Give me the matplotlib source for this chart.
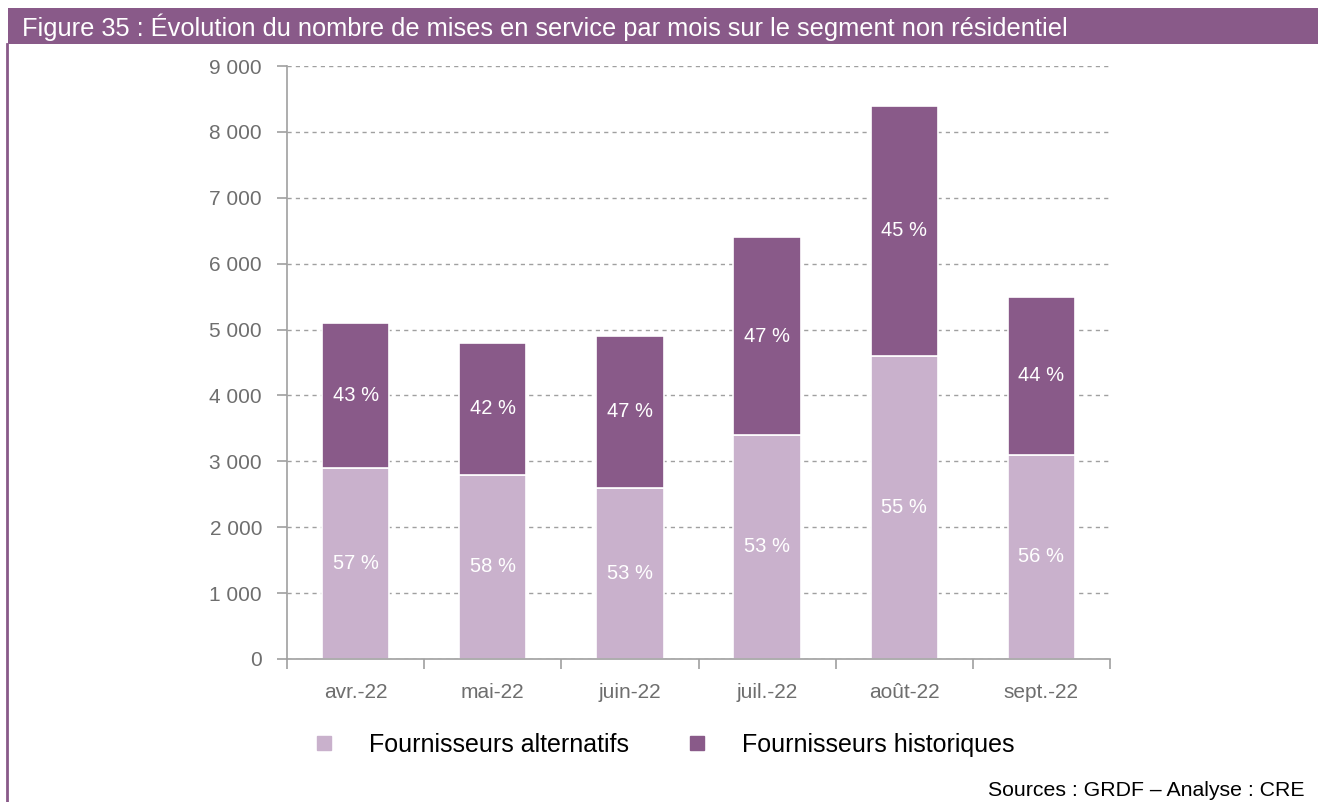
import matplotlib
matplotlib.use("Agg")
import matplotlib.pyplot as plt
from matplotlib.lines import Line2D
from matplotlib.patches import Rectangle
from matplotlib.ticker import FuncFormatter, FixedLocator

# Monthly commissioning counts, non-residential segment
months = ["avr.-22", "mai-22", "juin-22", "juil.-22", "août-22", "sept.-22"]
alternatifs = [2900, 2800, 2600, 3400, 4600, 3100]
historiques = [2200, 2000, 2300, 3000, 3800, 2400]
series_names = ["Fournisseurs alternatifs", "Fournisseurs historiques"]
y_ticks = [0, 1000, 2000, 3000, 4000, 5000, 6000, 7000, 8000, 9000]

title = "Figure 35 : Évolution du nombre de mises en service par mois sur le segment non résidentiel"
source = "Sources : GRDF – Analyse : CRE"

LIGHT = "#C9B1CC"
DARK = "#895A89"
GREY = "#6E6E6E"
AXIS = "#A0A0A0"
FONT = ["Liberation Sans", "DejaVu Sans"]

plt.rcParams["font.family"] = FONT

fig = plt.figure(figsize=(13.18, 8.02), dpi=100)
W, H = 1318, 802

# Title banner and frame line
fig.patches.append(Rectangle((8 / W, 1 - 44 / H), 1 - 8 / W, 36 / H,
                             transform=fig.transFigure, facecolor=DARK,
                             edgecolor="none", zorder=0))
fig.add_artist(Line2D([7 / W, 7 / W], [0, 1 - 44 / H], transform=fig.transFigure,
                      color=DARK, linewidth=2))
fig.text(22 / W, 1 - 27 / H, title, color="white", fontsize=18.3,
         family=["Liberation Sans Narrow", "Liberation Sans", "DejaVu Sans"],
         ha="left", va="center")

ax = fig.add_axes([287 / W, 1 - 659 / H, 823 / W, 593 / H])

x = list(range(len(months)))
totals = [a + h for a, h in zip(alternatifs, historiques)]
width = 0.49
ax.bar(x, alternatifs, width, color=LIGHT, edgecolor="white", linewidth=1.2, zorder=3)
ax.bar(x, historiques, width, bottom=alternatifs, color=DARK, edgecolor="white",
       linewidth=1.2, zorder=3)

for i, (a, h, t) in enumerate(zip(alternatifs, historiques, totals)):
    pa = round(100 * a / t)
    ph = round(100 * h / t)
    ax.text(i, a / 2, f"{pa} %", color="white", ha="center", va="center",
            fontsize=14.5, zorder=4)
    ax.text(i, a + h / 2, f"{ph} %", color="white", ha="center", va="center",
            fontsize=14.5, zorder=4)

ax.set_xlim(-0.5, len(months) - 0.5)
ax.set_ylim(0, 9000)
ax.yaxis.set_major_locator(FixedLocator(y_ticks))
ax.yaxis.set_major_formatter(FuncFormatter(lambda v, p: f"{int(v):,}".replace(",", " ")))
ax.grid(axis="y", linestyle=(0, (3, 3)), color=AXIS, linewidth=1, zorder=0)

ax.set_xticks(x)
ax.set_xticklabels(months)
ax.xaxis.set_minor_locator(FixedLocator([i - 0.5 for i in range(len(months) + 1)]))
ax.tick_params(axis="x", which="major", length=0, pad=17, labelsize=15, labelcolor=GREY)
ax.tick_params(axis="x", which="minor", length=7, color=AXIS, width=1.2)
ax.tick_params(axis="y", length=7, color=AXIS, width=1.2, pad=11,
               labelsize=15, labelcolor=GREY)

for side in ("top", "right"):
    ax.spines[side].set_visible(False)
for side in ("left", "bottom"):
    ax.spines[side].set_color(AXIS)
    ax.spines[side].set_linewidth(1.2)
    ax.spines[side].set_zorder(5)

handles = [Line2D([], [], marker="s", linestyle="none", markersize=9.5,
                  markerfacecolor=c, markeredgecolor=c) for c in (LIGHT, DARK)]
fig.legend(handles, series_names, loc="center", bbox_to_anchor=(663 / W, 1 - 745 / H),
           ncol=2, frameon=False, fontsize=18, handletextpad=1.3, columnspacing=2.2,
           handlelength=1.0)

fig.text(1305 / W, 1 - 790 / H, source, ha="right", va="center", fontsize=15.3,
         color="black")

fig.savefig("out.png", dpi=100, facecolor="white")
